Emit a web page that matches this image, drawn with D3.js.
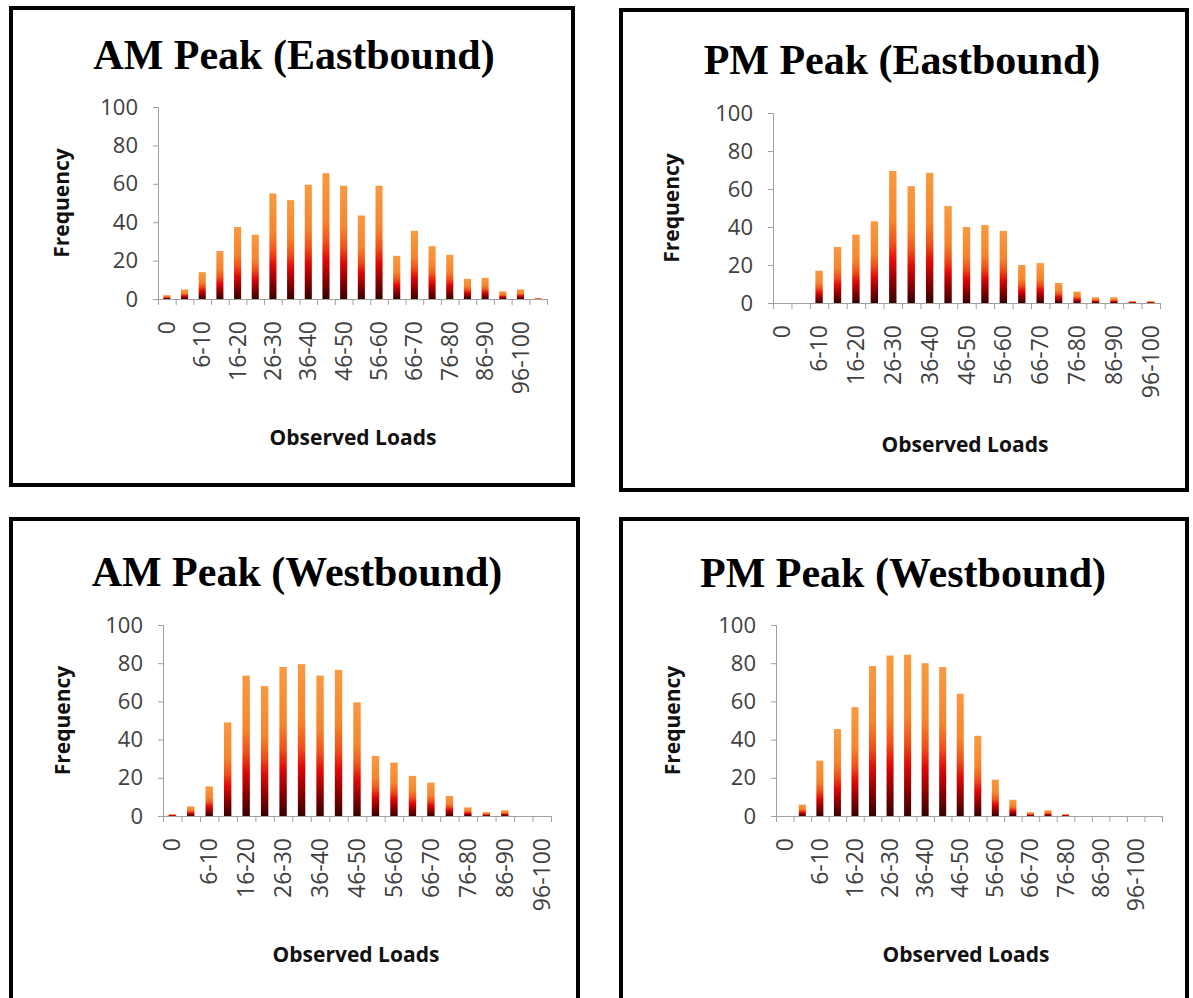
<!DOCTYPE html>
<html>
<head>
<meta charset="utf-8">
<script src="https://cdn.jsdelivr.net/npm/d3@7"></script>
<style>
  body { margin: 0; background: #fff; }
  svg { display: block; }
</style>
</head>
<body>
<svg id="chart" width="1193" height="998"></svg>
<script>
// load classes on the x axis (every other one gets a label)
var categories = ["0", "1-5", "6-10", "11-15", "16-20", "21-25", "26-30", "31-35", "36-40", "41-45",
  "46-50", "51-55", "56-60", "61-65", "66-70", "71-75", "76-80", "81-85", "86-90", "91-95", "96-100", ">100"];

var yTicks = [0, 20, 40, 60, 80, 100];

// frequencies
var amEast = [2, 5, 14, 25, 37.5, 33.5, 55, 51.5, 59.5, 65.5, 59, 43.5, 59, 22.5, 35.5, 27.5, 23, 10.5, 11, 4, 5, 0.5];
var pmEast = [0, 0, 17, 29.5, 36, 43, 69.5, 61.5, 68.5, 51, 40, 41, 38, 20, 21, 10.5, 6, 3, 3, 1, 1];
var amWest = [1, 5, 15.5, 49, 73.5, 68, 78, 79.5, 73.5, 76.5, 59.5, 31.5, 28, 21, 17.5, 10.5, 4.5, 2, 3, 0, 0];
var pmWest = [0, 6, 29, 45.5, 57, 78.5, 84, 84.5, 80, 78, 64, 42, 19, 8.5, 2, 3, 1, 0, 0, 0, 0, 0];

var titles = ["AM Peak (Eastbound)", "PM Peak (Eastbound)", "AM Peak (Westbound)", "PM Peak (Westbound)"];

// layout of the four boxes
var panels = [
  {title: titles[0], values: amEast, box: [11, 8, 573, 485], left: 158, right: 547, top: 107, bottom: 299, tx: 294, ty: 69, fx: 62, ox: 353, oy: 445},
  {title: titles[1], values: pmEast, box: [621, 10, 1187, 490], left: 773, right: 1160, top: 113, bottom: 303, tx: 902, ty: 74, fx: 672, ox: 965, oy: 452},
  {title: titles[2], values: amWest, box: [11, 519, 578, 1020], left: 163, right: 551, top: 625, bottom: 816, tx: 297, ty: 586, fx: 63, ox: 356, oy: 962},
  {title: titles[3], values: pmWest, box: [621, 519, 1187, 1020], left: 776, right: 1162, top: 625, bottom: 816, tx: 903, ty: 587, fx: 673, ox: 966, oy: 962}
];

var svg = d3.select("#chart");

var grad = svg.append("defs").append("linearGradient")
  .attr("id", "barFill")
  .attr("x1", 0).attr("y1", 0).attr("x2", 0).attr("y2", 1);
grad.selectAll("stop")
  .data([[0, "#f89a42"], [0.38, "#f5852c"], [0.55, "#f0501a"], [0.68, "#e00a06"], [0.84, "#8c0000"], [1, "#360000"]])
  .enter().append("stop")
  .attr("offset", function(d) { return d[0]; })
  .attr("stop-color", function(d) { return d[1]; });

panels.forEach(function(p) {
  var b = p.box;
  svg.append("rect")
    .attr("x", b[0]).attr("y", b[1])
    .attr("width", b[2] - b[0]).attr("height", b[3] - b[1])
    .attr("fill", "#fff")
    .attr("stroke", "#000")
    .attr("stroke-width", 4);

  svg.append("text")
    .attr("x", p.tx).attr("y", p.ty)
    .attr("text-anchor", "middle")
    .style("font-family", "'Liberation Serif', 'Times New Roman', serif")
    .style("font-weight", "bold")
    .style("font-size", "42px")
    .text(p.title);

  var cats = categories.slice(0, p.values.length);
  var n = cats.length;
  var width = p.right - p.left,
      height = p.bottom - p.top;

  var g = svg.append("g")
    .attr("transform", "translate(" + p.left + "," + p.top + ")");

  var x = d3.scaleBand()
    .domain(cats)
    .range([0, width])
    .paddingInner(0.6)
    .paddingOuter(0.3);

  var xSlot = d3.scaleBand()
    .domain(cats)
    .range([0, width]);

  var xEdge = d3.scaleLinear()
    .domain([0, n])
    .range([0, width]);

  var y = d3.scaleLinear()
    .domain([0, 100])
    .range([height, 0]);

  g.selectAll(".bar")
    .data(p.values)
    .enter().append("rect")
    .attr("class", "bar")
    .attr("x", function(d, i) { return x(cats[i]); })
    .attr("y", function(d) { return y(d); })
    .attr("width", x.bandwidth())
    .attr("height", function(d) { return height - y(d); })
    .attr("fill", "url(#barFill)");

  // y axis
  var yAxis = g.append("g")
    .call(d3.axisLeft(y).tickValues(yTicks).tickSize(5).tickPadding(15));
  yAxis.select(".domain").attr("stroke", "#a0a0a0");
  yAxis.selectAll("line").attr("stroke", "#a0a0a0");
  yAxis.selectAll("text")
    .attr("fill", "#404040")
    .style("font-family", "'Open Sans', sans-serif")
    .style("font-size", "22px");

  // x axis ticks at class boundaries
  var xAxis = g.append("g")
    .attr("transform", "translate(0," + height + ")")
    .call(d3.axisBottom(xEdge).tickValues(d3.range(n + 1)).tickFormat("").tickSize(6).tickSizeOuter(0));
  xAxis.select(".domain").attr("stroke", "#a0a0a0");
  xAxis.selectAll("line").attr("stroke", "#a0a0a0");

  // x labels, every other class
  var xLab = g.append("g")
    .attr("transform", "translate(0," + height + ")")
    .call(d3.axisBottom(xSlot).tickSize(0).tickFormat(function(d, i) { return i % 2 === 0 && i < 21 ? d : ""; }));
  xLab.select(".domain").remove();
  xLab.selectAll("text")
    .attr("y", 0)
    .attr("x", -22)
    .attr("dy", "0.35em")
    .attr("transform", "rotate(-90)")
    .style("text-anchor", "end")
    .attr("fill", "#404040")
    .style("font-family", "'Open Sans', sans-serif")
    .style("font-size", "23px");

  svg.append("text")
    .attr("transform", "translate(" + p.fx + "," + (p.top + height / 2) + ") rotate(-90)")
    .attr("text-anchor", "middle")
    .attr("dy", "0.35em")
    .style("font-family", "'Open Sans', sans-serif")
    .style("font-weight", "bold")
    .style("font-size", "21px")
    .attr("fill", "#111")
    .text("Frequency");

  svg.append("text")
    .attr("x", p.ox).attr("y", p.oy)
    .attr("text-anchor", "middle")
    .style("font-family", "'Open Sans', sans-serif")
    .style("font-weight", "bold")
    .style("font-size", "21px")
    .attr("fill", "#111")
    .text("Observed Loads");
});
</script>
</body>
</html>
